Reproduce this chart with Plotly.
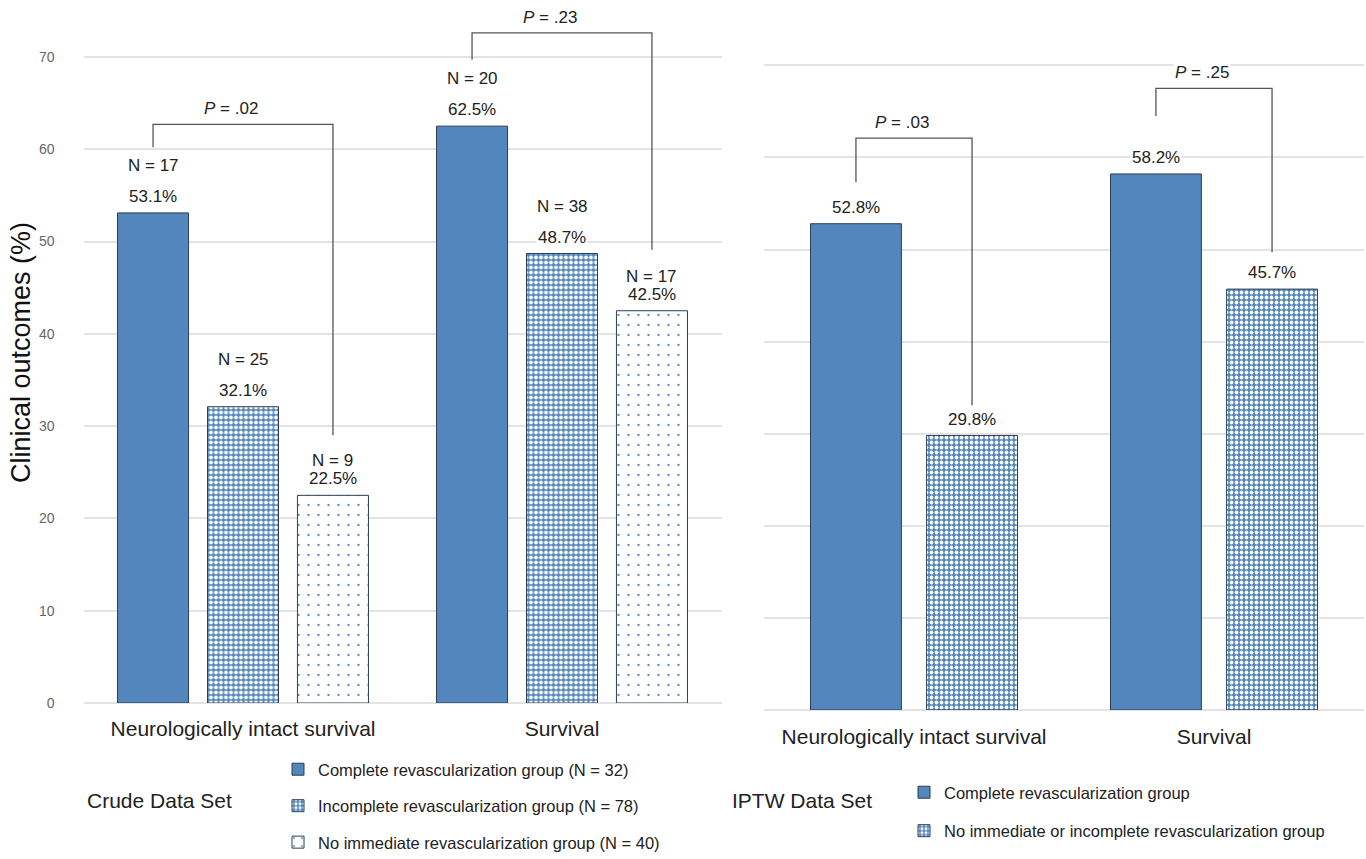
import plotly.graph_objects as go

# ---------------- data ----------------
categories = ["Neurologically intact survival", "Survival"]

crude_series = ["Complete revascularization group (N = 32)",
                "Incomplete revascularization group (N = 78)",
                "No immediate revascularization group (N = 40)"]
crude_complete = [53.1, 62.5]
crude_incomplete = [32.1, 48.7]
crude_none = [22.5, 42.5]
crude_counts_complete = [17, 20]
crude_counts_incomplete = [25, 38]
crude_counts_none = [9, 17]

iptw_series = ["Complete revascularization group",
               "No immediate or incomplete revascularization group"]
iptw_complete = [52.8, 58.2]
iptw_other = [29.8, 45.7]

crude_p = [".02", ".23"]
iptw_p = [".03", ".25"]

yticks = [0, 10, 20, 30, 40, 50, 60, 70]

# ---------------- styling ----------------
FONT = "Liberation Sans, Arial, sans-serif"
BLUE = "#5286bd"
EDGE = "#2b3e55"
GRID = "#e3e3e3"
BR = "#555555"

W, H = 1366, 859

# bar geometry (in category units)
L_slot, L_width = 0.282, 0.2226
R_slot, R_width = 0.387, 0.303

patterns = [
    dict(shape=""),
    dict(shape=".", fgcolor="white", bgcolor=BLUE, size=5, solidity=0.45, fillmode="replace"),
    dict(shape=".", fgcolor=BLUE, bgcolor="white", size=10, solidity=0.04, fillmode="replace"),
]

fig = go.Figure()

crude_vals = [crude_complete, crude_incomplete, crude_none]
crude_counts = [crude_counts_complete, crude_counts_incomplete, crude_counts_none]
x_idx = list(range(len(categories)))
L_start = -1.5 * L_slot
for j, (name, vals) in enumerate(zip(crude_series, crude_vals)):
    off = L_start + j * L_slot + (L_slot - L_width) / 2
    fig.add_trace(go.Bar(
        x=x_idx, y=vals, name=name, width=L_width, offset=off,
        marker=dict(color=BLUE if j == 0 else "white", line=dict(color=EDGE, width=1),
                    pattern=patterns[j]),
        xaxis="x", yaxis="y", legend="legend", legendgroup="c%d" % j,
        hoverinfo="y",
    ))

iptw_vals = [iptw_complete, iptw_other]
R_start = -1.0 * R_slot
for j, (name, vals) in enumerate(zip(iptw_series, iptw_vals)):
    off = R_start + j * R_slot + (R_slot - R_width) / 2
    fig.add_trace(go.Bar(
        x=x_idx, y=vals, name=name, width=R_width, offset=off,
        marker=dict(color=BLUE if j == 0 else "white", line=dict(color=EDGE, width=1),
                    pattern=patterns[j]),
        xaxis="x2", yaxis="y2", legend="legend2", legendgroup="i%d" % j,
        hoverinfo="y",
    ))

annotations = []

def center(i, j, start, slot):
    return i + start + j * slot + slot / 2

n_shift = [31, 31, 18]
for j, vals in enumerate(crude_vals):
    for i, v in enumerate(vals):
        xc = center(i, j, L_start, L_slot)
        annotations.append(dict(x=xc, y=v, xref="x", yref="y", text="%.1f%%" % v,
                                showarrow=False, yanchor="bottom", yshift=5,
                                font=dict(size=17, color="#222"), bgcolor="white"))
        annotations.append(dict(x=xc, y=v, xref="x", yref="y",
                                text="N = %d" % crude_counts[j][i],
                                showarrow=False, yanchor="bottom", yshift=5 + n_shift[j],
                                font=dict(size=17, color="#222"), bgcolor="white"))
for j, vals in enumerate(iptw_vals):
    for i, v in enumerate(vals):
        xc = center(i, j, R_start, R_slot)
        annotations.append(dict(x=xc, y=v, xref="x2", yref="y2", text="%.1f%%" % v,
                                showarrow=False, yanchor="bottom", yshift=5,
                                font=dict(size=17, color="#222"), bgcolor="white"))

# brackets: (left bar, right bar, top, left leg end, right leg end)
L_brackets = [(0, 2, 62.7, 60.2, 29.0), (0, 2, 72.6, 69.7, 49.1)]
R_brackets = [(0, 1, 62.1, 57.3, 33.1), (0, 1, 67.5, 64.5, 49.7)]

def add_bracket(i, spec, start, slot, xa, ya, ptxt):
    ja, jb, top, la, lb = spec
    xa_ = center(i, ja, start, slot)
    xb_ = center(i, jb, start, slot)
    fig.add_trace(go.Scatter(x=[xa_, xa_, xb_, xb_], y=[la, top, top, lb], mode="lines",
                             line=dict(color=BR, width=1.3), xaxis=xa, yaxis=ya,
                             showlegend=False, hoverinfo="skip"))
    annotations.append(dict(x=(xa_ + xb_) / 2, y=top, xref=xa, yref=ya,
                            text="<i>P</i> = " + ptxt, showarrow=False,
                            yanchor="bottom", yshift=4, xshift=-12,
                            font=dict(size=17, color="#222"), bgcolor="white"))

for i, spec in enumerate(L_brackets):
    add_bracket(i, spec, L_start, L_slot, "x", "y", crude_p[i])
for i, spec in enumerate(R_brackets):
    add_bracket(i, spec, R_start, R_slot, "x2", "y2", iptw_p[i])

annotations.append(dict(x=85 / W, y=1 - 800 / H, xref="paper", yref="paper",
                        text="Crude Data Set", showarrow=False, xanchor="left",
                        yanchor="middle", font=dict(size=21, color="#222")))
annotations.append(dict(x=730 / W, y=1 - 800 / H, xref="paper", yref="paper",
                        text="IPTW Data Set", showarrow=False, xanchor="left",
                        yanchor="middle", font=dict(size=21, color="#222")))
# y-axis title
annotations.append(dict(x=21 / W, y=1 - 353 / H, xref="paper", yref="paper",
                        text="Clinical outcomes (%)", showarrow=False, textangle=-90,
                        xanchor="center", yanchor="middle",
                        font=dict(size=27, color="#111")))

fig.update_layout(
    width=W, height=H, autosize=False,
    margin=dict(l=0, r=0, t=0, b=0, autoexpand=False),
    paper_bgcolor="white", plot_bgcolor="white",
    font=dict(family=FONT, color="#222"),
    barmode="overlay",
    annotations=annotations,
    xaxis=dict(domain=[83.5 / W, 721.5 / W], range=[-0.5, 1.5], tickvals=x_idx,
               ticktext=categories, showgrid=False, zeroline=False, showline=False,
               ticks="", ticklabelstandoff=11, tickfont=dict(size=21, color="#222"),
               automargin=False, fixedrange=True),
    yaxis=dict(domain=[1 - 703 / H, 1.0], range=[0, 703 / 9.23], tickvals=yticks,
               showgrid=True, gridcolor=GRID, gridwidth=1.5, zeroline=True,
               zerolinecolor=GRID, zerolinewidth=1.5, showline=False, ticks="",
               ticklabelstandoff=28, tickfont=dict(size=14, color="#666"),
               automargin=False, fixedrange=True),
    xaxis2=dict(domain=[764 / W, 1364 / W], range=[-0.5, 1.5], tickvals=x_idx,
                ticktext=categories, showgrid=False, zeroline=False, showline=False,
                ticks="", ticklabelstandoff=12, tickfont=dict(size=21, color="#222"),
                anchor="y2", automargin=False, fixedrange=True),
    yaxis2=dict(domain=[1 - 710 / H, 1.0], range=[0, 710 / 9.21], tickvals=yticks,
                showticklabels=False, showgrid=True, gridcolor=GRID, gridwidth=1.5,
                zeroline=True, zerolinecolor=GRID, zerolinewidth=1.5, ticks="",
                anchor="x2", automargin=False, fixedrange=True),
    legend=dict(x=(318 - 40) / W, y=1 - 752 / H, xanchor="left", yanchor="top",
                traceorder="grouped", tracegroupgap=12, font=dict(size=16.5, color="#222"),
                bgcolor="rgba(0,0,0,0)", itemclick=False, itemdoubleclick=False),
    legend2=dict(x=(944 - 40) / W, y=1 - 775 / H, xanchor="left", yanchor="top",
                 traceorder="grouped", tracegroupgap=14, font=dict(size=16.5, color="#222"),
                 bgcolor="rgba(0,0,0,0)", itemclick=False, itemdoubleclick=False),
    showlegend=True,
)

fig.write_html("out.html", config={"displayModeBar": False},
               post_script="document.body.style.margin='0';")
